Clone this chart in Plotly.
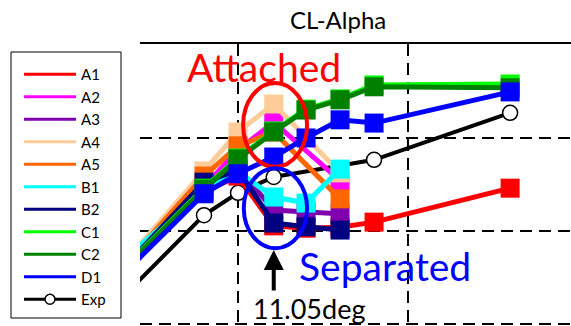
import plotly.graph_objects as go

W, H = 571, 326

# ---- data ----
alpha = [6, 9, 10, 11.05, 12, 13, 14, 18]
A1 = [1.067, 1.284, 1.318, 1.211, 1.206, 1.208, 1.219, 1.292]
A2 = [1.082, 1.295, 1.374, 1.434, None, 1.308, None, None]
A3 = [1.077, 1.292, 1.335, 1.245, 1.241, 1.237, None, None]
A4 = [1.077, 1.329, 1.413, 1.473, None, 1.325, None, None]
A5 = [1.073, 1.318, 1.383, 1.413, None, 1.269, None, None]
B1 = [1.099, 1.288, 1.327, 1.273, 1.260, 1.333, None, None]
B2 = [1.071, 1.305, 1.331, 1.217, 1.209, 1.202, None, None]
C1 = [1.075, 1.292, 1.357, 1.415, 1.462, 1.484, 1.514, 1.516]
C2 = [1.073, 1.290, 1.355, 1.413, 1.460, 1.482, 1.510, 1.508]
D1 = [1.062, 1.280, 1.323, 1.359, 1.400, 1.439, 1.432, 1.499]
Exp = [1.013, 1.234, 1.282, 1.316, None, None, 1.353, 1.454]

names = ["A1", "A2", "A3", "A4", "A5", "B1", "B2", "C1", "C2", "D1"]
series = [A1, A2, A3, A4, A5, B1, B2, C1, C2, D1]
colors = ["#FF0000", "#FF00FF", "#8000B0", "#FFCC99", "#FF6600",
          "#00FFFF", "#000080", "#00FF00", "#008000", "#0000FF"]

x_ticks = [10, 15]
y_ticks = [1.0, 1.2, 1.4]
x_range = [7.118, 19.79]
y_range = [0.9957, 1.602]

FONT = "Lato"

fig = go.Figure()

# Exp drawn first (beneath the CFD curves)
fig.add_trace(go.Scatter(
    x=alpha, y=Exp, name="Exp", mode="lines+markers", connectgaps=True,
    line=dict(color="black", width=4),
    marker=dict(symbol="circle", size=15, color="white",
                line=dict(color="black", width=1.5)),
    showlegend=False, legendgroup="Exp",
))

for i, (n, s, c) in enumerate(zip(names, series, colors)):
    fig.add_trace(go.Scatter(
        x=alpha, y=s, name=n, mode="lines+markers", connectgaps=True,
        line=dict(color=c, width=5),
        marker=dict(symbol="square", size=19, color=c),
        showlegend=False, legendgroup=n,
    ))
    # legend-only entry (line sample without marker)
    fig.add_trace(go.Scatter(
        x=[None], y=[None], name=n, mode="lines", legendgroup=n,
        line=dict(color=c, width=3), legendrank=i + 1,
    ))

# legend-only entry for Exp
fig.add_trace(go.Scatter(
    x=[None], y=[None], name="Exp", mode="lines+markers", legendgroup="Exp",
    line=dict(color="black", width=3),
    marker=dict(symbol="circle", size=10, color="white",
                line=dict(color="black", width=1.5)),
    legendrank=1000,
))

def px(xp):
    return xp / W

def py(yp):
    return 1 - yp / H

shapes = [
    # legend frame
    dict(type="rect", xref="paper", yref="paper",
         x0=px(11), x1=px(121), y0=py(318), y1=py(52),
         line=dict(color="black", width=1), layer="above"),
    # attached / separated ellipses
    dict(type="circle", xref="x", yref="y", x0=10.15, x1=12.03,
         y0=1.338, y1=1.518, line=dict(color="#FF0000", width=4)),
    dict(type="circle", xref="x", yref="y", x0=10.17, x1=12.03,
         y0=1.163, y1=1.335, line=dict(color="#0000FF", width=4)),
]

annotations = [
    dict(text="CL-Alpha", xref="paper", yref="paper", x=px(338), y=py(20),
         xanchor="center", yanchor="middle", showarrow=False,
         font=dict(family=FONT, size=24, color="black")),
    dict(text="Attached", xref="paper", yref="paper", x=px(263.5), y=py(67),
         xanchor="center", yanchor="middle", showarrow=False,
         font=dict(family=FONT, size=39, color="#FF0000")),
    dict(text="Separated", xref="paper", yref="paper", x=px(385), y=py(266),
         xanchor="center", yanchor="middle", showarrow=False,
         font=dict(family=FONT, size=39, color="#0000FF")),
    dict(text="11.05deg", xref="paper", yref="paper", x=px(309.5), y=py(308),
         xanchor="center", yanchor="middle", showarrow=False,
         font=dict(family=FONT, size=27, color="black")),
    dict(text="", x=11.05, y=1.159, xref="x", yref="y", showarrow=True,
         ax=0, ay=42, axref="pixel", ayref="pixel", arrowhead=2,
         arrowsize=1, arrowwidth=4, arrowcolor="black", standoff=0),
]

fig.update_layout(
    width=W, height=H,
    margin=dict(l=0, r=0, t=0, b=0, autoexpand=False),
    paper_bgcolor="white", plot_bgcolor="white",
    showlegend=True,
    legend=dict(
        x=px(19), y=py(58), xanchor="left", yanchor="top",
        bgcolor="rgba(0,0,0,0)", borderwidth=0,
        font=dict(family=FONT, size=15, color="black"),
        tracegroupgap=0, itemwidth=52,
    ),
    xaxis=dict(domain=[140 / W, 1], range=x_range, side="top",
               showline=True, linecolor="black", linewidth=2,
               tickvals=x_ticks, showticklabels=False, ticks="",
               showgrid=True, gridcolor="black", gridwidth=2,
               griddash="12px,7px", zeroline=False),
    yaxis=dict(domain=[0, 1 - 44 / H], range=y_range,
               tickvals=y_ticks, showticklabels=False, ticks="",
               showgrid=True, gridcolor="black", gridwidth=2,
               griddash="12px,7px", zeroline=False, showline=False),
    shapes=shapes,
    annotations=annotations,
)

fig.write_html("out.html")
